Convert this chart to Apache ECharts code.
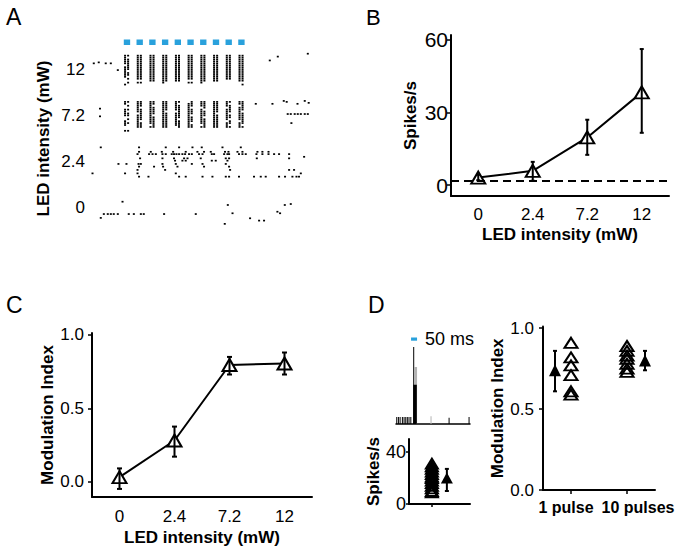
<!DOCTYPE html>
<html><head><meta charset="utf-8">
<script src="https://cdn.jsdelivr.net/npm/echarts@6/dist/echarts.min.js"></script>
<style>html,body{margin:0;padding:0;background:#fff}#c{width:679px;height:548px}</style>
</head><body><div id="c"></div>
<script>
const FONT = 'Liberation Sans, Arial, Helvetica, sans-serif';

// ---------- Panel A : raster ----------
const intensityLabels = ['0', '2.4', '7.2', '12'];
const pulseOnsetsMs = [0, 100, 200, 300, 400, 500, 600, 700, 800, 900];
const pulseWidthMs = 50;
// response per pulse, one character per trial (0 none, 1 early spike, 2 late spike, 3 both)
const columns12 = [
  '3133323313312021', '333333333333303', '333333333333330', '333333333333331', '333333333333330',
  '333333333333303', '333333333333331', '333333333333330', '33333333333330', '3333333333333302'
];
const columns72 = [
  '3120313302131003', '333133233313330', '331333313333230', '333331333333330', '313332333133320',
  '233133313331330', '333213331333230', '333333133333330', '313233133123130', '332331333323130'
];
// spontaneous / sparse spikes: [trial, [spike times in ms]]
const sparse12 = [[4, [-236, -142, -102]], [3.5, [-197]], [7.5, [-47]], [2.5, [1148]], [0.5, [1211]], [-1, [1447]]];
const sparse72 = [[3.5, [-187]], [7.5, [-187]], [1, [1038, 1169, 1366]], [-0.5, [1258, 1423]], [0, [1281]], [0.5, [1454]],
  [6.3, [1289, 1313, 1344, 1368, 1392, 1423, 1447]], [11, [1318]]];
const sparse24 = [
  [-0.4, [-181, 120, 330, 435, 540, 613, 776, 920]],
  [1.9, [120, 212, 299, 388, 487, 579, 631, 684, 796, 823, 894, 933, 1051, 1090, 1138]],
  [3.1, [108, 199, 226, 252, 304, 330, 377, 395, 414, 435, 461, 482, 513, 535, 592, 619, 692, 710, 789, 815, 828, 906, 933, 959, 1043, 1090, 1138, 1182, 1221, 1300]],
  [4.5, [1418]],
  [5.3, [128, 304, 395, 474, 501, 605, 802, 828, 1046, 1300]],
  [6.5, [403, 461, 487, 692, 723, 815]],
  [8.2, [-42, 21, 116, 134, 304, 409, 535, 619, 802]],
  [9.6, [120, 238, 309, 422, 631, 828]],
  [11.3, [108, 325, 836, 1300, 1339]],
  [13.1, [-246, 10, 108, 409, 1392]],
  [14.8, [120, 194, 435, 487, 619, 697, 802, 828, 906, 1024, 1077, 1116, 1221, 1268, 1326, 1358, 1378]]
];
const sparse0 = [[3.8, [-10]], [10.2, [-157, -126, -102, -79, -47, 39, 79, 134, 157, 317, 566]], [12.2, [-181]],
  [5.5, [818, 1266]], [9.8, [855, 1229]], [15.3, [794]], [12.4, [993]], [13.6, [1064, 1103]], [9, [1208]], [5, [1313]]];

// ---------- Panel B ----------
const spikeRateMean = [3.1, 5.9, 19.7, 38.3];
const spikeRateLow = [2.0, 1.8, 12.5, 21.6];
const spikeRateHigh = [4.3, 9.6, 27.0, 56.2];
const baselineRate = 2.0;

// ---------- Panel C ----------
const modIndexMean = [0.03, 0.28, 0.795, 0.805];
const modIndexLow = [-0.05, 0.17, 0.73, 0.73];
const modIndexHigh = [0.09, 0.375, 0.85, 0.88];

// ---------- Panel D ----------
const psthPulseMs = [0, 50];
const psthBlack = [[-123, -115, 9], [-109, -101, 9], [-95, -87, 9], [-76, -68, 9], [-62, -54, 9], [-48, -40, 9],
  [-35, -27, 9], [-21, -13, 9], [-6, 2, 9], [18, 26, 100], [18, 48, 51], [312, 320, 8], [478, 486, 9]];
const psthGray = [[30, 50, 74], [162, 170, 10]];
const singlePulseRates = [31, 29, 27, 25, 23, 21, 20, 18, 16, 14, 12, 10, 9];
const singlePulseMean = [20];
const singlePulseLow = [10];
const singlePulseHigh = [27];
const miConditions = ['1 pulse', '10 pulses'];
const miOnePulse = [0.91, 0.82, 0.77, 0.71, 0.61, 0.59];
const miTenPulses = [0.89, 0.86, 0.83, 0.81, 0.78, 0.75, 0.73];
const miMean = [0.74, 0.80];
const miLow = [0.61, 0.74];
const miHigh = [0.86, 0.86];

// ---------- build ----------
const TRIALS_PER_BLOCK = 24, TOP_TRIAL = 19, EARLY = 10, LATE = 34;
function rasterPoints(block, columns, sparse) {
  const pts = [];
  const yv = t => block * TRIALS_PER_BLOCK + TOP_TRIAL - t;
  if (columns) columns.forEach((col, p) => {
    for (let t = 0; t < col.length; t++) {
      const c = col[t];
      if (c === '1' || c === '3') pts.push([pulseOnsetsMs[p] + EARLY, yv(t)]);
      if (c === '2' || c === '3') pts.push([pulseOnsetsMs[p] + LATE, yv(t)]);
    }
  });
  sparse.forEach(([t, times]) => times.forEach(ms => pts.push([ms, yv(t)])));
  return pts;
}
const rasterData = [].concat(
  rasterPoints(0, null, sparse0), rasterPoints(1, null, sparse24),
  rasterPoints(2, columns72, sparse72), rasterPoints(3, columns12, sparse12));

const BLACK = '#000';
const axisLine = (w) => ({ show: true, onZero: false, lineStyle: { color: BLACK, width: w || 2 } });
const lbl = (size, extra) => Object.assign({ color: BLACK, fontSize: size, fontFamily: FONT, interval: 0 }, extra || {});
const nameStyle = { color: BLACK, fontSize: 17, fontWeight: 'bold', fontFamily: FONT };

function errorBars(xi, yi, xs, lo, hi, offsets, capW) {
  return {
    type: 'custom', xAxisIndex: xi, yAxisIndex: yi, z: 5, silent: true,
    data: xs.map((x, i) => [x, lo[i], hi[i]]),
    encode: { x: 0, y: [1, 2] },
    renderItem: (params, api) => {
      const i = params.dataIndex;
      const a = api.coord([api.value(0), api.value(1)]);
      const b = api.coord([api.value(0), api.value(2)]);
      const x = a[0] + (offsets ? offsets[i] : 0);
      const s = { stroke: BLACK, lineWidth: 2 };
      return { type: 'group', children: [
        { type: 'line', shape: { x1: x, y1: a[1], x2: x, y2: b[1] }, style: s },
        { type: 'line', shape: { x1: x - capW / 2, y1: a[1], x2: x + capW / 2, y2: a[1] }, style: s },
        { type: 'line', shape: { x1: x - capW / 2, y1: b[1], x2: x + capW / 2, y2: b[1] }, style: s }
      ] };
    }
  };
}
function binSeries(bins, color, z) {
  return {
    type: 'custom', xAxisIndex: 3, yAxisIndex: 4, z: z, silent: true, data: bins,
    renderItem: (params, api) => {
      const a = api.coord([api.value(0), 0]);
      const b = api.coord([api.value(1), api.value(2)]);
      return { type: 'rect', shape: { x: a[0], y: b[1], width: Math.max(1, b[0] - a[0]), height: a[1] - b[1] }, style: { fill: color } };
    }
  };
}
const idx4 = [0, 1, 2, 3];
const openTri = { color: '#fff', borderColor: BLACK, borderWidth: 2, opacity: 1 };
const hollowTri = { color: 'rgba(255,255,255,0)', borderColor: BLACK, borderWidth: 2, opacity: 1 };
const solidTri = { color: BLACK, opacity: 1 };
const miMeanOffsets = [-16, 18];
const rateMeanOffset = [15];

const option = {
  animation: false,
  backgroundColor: '#fff',
  textStyle: { fontFamily: FONT },
  title: [
    { text: 'A', left: 1, top: 0, textStyle: { fontSize: 23, fontWeight: 'normal', color: BLACK, fontFamily: FONT } },
    { text: 'B', left: 361, top: 1, textStyle: { fontSize: 22, fontWeight: 'normal', color: BLACK, fontFamily: FONT } },
    { text: 'C', left: 1, top: 288, textStyle: { fontSize: 23, fontWeight: 'normal', color: BLACK, fontFamily: FONT } },
    { text: 'D', left: 363, top: 288, textStyle: { fontSize: 23, fontWeight: 'normal', color: BLACK, fontFamily: FONT } }
  ],
  grid: [
    { left: 92, top: 46, width: 220, height: 185, outerBoundsMode: 'none' },
    { left: 451, top: 35, width: 218, height: 161, outerBoundsMode: 'none' },
    { left: 92, top: 333, width: 220, height: 164, outerBoundsMode: 'none' },
    { left: 396, top: 347, width: 74, height: 77, outerBoundsMode: 'none' },
    { left: 409, top: 439, width: 61, height: 65, outerBoundsMode: 'none' },
    { left: 543, top: 326.6, width: 112, height: 163.4, outerBoundsMode: 'none' }
  ],
  xAxis: [
    { gridIndex: 0, type: 'value', min: -250, max: 1480, show: false },
    { gridIndex: 1, type: 'category', data: intensityLabels, axisLine: axisLine(), axisTick: { show: false },
      axisLabel: lbl(17, { margin: 10 }), splitLine: { show: false },
      name: 'LED intensity (mW)', nameLocation: 'middle', nameGap: 30, nameTextStyle: nameStyle },
    { gridIndex: 2, type: 'category', data: intensityLabels, axisLine: axisLine(), axisTick: { show: false },
      axisLabel: lbl(17, { margin: 11 }), splitLine: { show: false },
      name: 'LED intensity (mW)', nameLocation: 'middle', nameGap: 32, nameTextStyle: nameStyle },
    { gridIndex: 3, type: 'value', min: -125, max: 490, axisLine: axisLine(1.5), axisTick: { show: false },
      axisLabel: { show: false }, splitLine: { show: false } },
    { gridIndex: 4, type: 'value', min: -3, max: 5, axisLine: axisLine(),
      axisTick: { show: true, customValues: [0], length: 3, lineStyle: { color: BLACK, width: 1.5 } },
      axisLabel: { show: false, customValues: [0] }, splitLine: { show: false } },
    { gridIndex: 5, type: 'category', data: miConditions, axisLine: axisLine(),
      axisTick: { show: true, alignWithLabel: true, interval: 0, length: 4, lineStyle: { color: BLACK, width: 1.5 } },
      axisLabel: lbl(16, { fontWeight: 'bold', margin: 9, hideOverlap: false,
        formatter: (v, i) => (i === 0 ? '{a|' : '{b|') + v + '}',
        rich: { a: { fontSize: 16, fontWeight: 'bold', fontFamily: FONT, color: BLACK, padding: [0, 10, 0, 0] },
                b: { fontSize: 16, fontWeight: 'bold', fontFamily: FONT, color: BLACK, padding: [0, 0, 0, 22] } } }),
      splitLine: { show: false } }
  ],
  yAxis: [
    { gridIndex: 0, type: 'category', data: intensityLabels, axisLine: { show: false }, axisTick: { show: false },
      axisLabel: lbl(17, { margin: 7 }), splitLine: { show: false },
      name: 'LED intensity (mW)', nameLocation: 'middle', nameGap: 40, nameTextStyle: nameStyle },
    { gridIndex: 0, type: 'value', min: 0, max: 96, show: false },
    { gridIndex: 1, type: 'value', min: -4.5, max: 62, axisLine: axisLine(),
      axisTick: { show: true, customValues: [0, 30, 60], length: 4, lineStyle: { color: BLACK, width: 1.5 } },
      axisLabel: lbl(21, { margin: 3, customValues: [0, 30, 60] }), splitLine: { show: false },
      name: 'Spikes/s', nameLocation: 'middle', nameGap: 32, nameTextStyle: nameStyle },
    { gridIndex: 2, type: 'value', min: -0.105, max: 1.013, axisLine: axisLine(),
      axisTick: { show: true, customValues: [0, 0.5, 1], length: 4, lineStyle: { color: BLACK, width: 1.5 } },
      axisLabel: lbl(17, { margin: 8, customValues: [0, 0.5, 1], formatter: v => v.toFixed(1) }), splitLine: { show: false },
      name: 'Modulation Index', nameLocation: 'middle', nameGap: 35, nameTextStyle: nameStyle },
    { gridIndex: 3, type: 'value', min: 0, max: 100, show: false },
    { gridIndex: 4, type: 'value', min: 0, max: 50, axisLine: axisLine(),
      axisTick: { show: true, customValues: [0, 40], length: 3, lineStyle: { color: BLACK, width: 1.5 } },
      axisLabel: lbl(18, { margin: 3, customValues: [0, 40] }), splitLine: { show: false },
      name: 'Spikes/s', nameLocation: 'middle', nameGap: 27, nameTextStyle: nameStyle },
    { gridIndex: 5, type: 'value', min: 0, max: 1.01, axisLine: axisLine(),
      axisTick: { show: true, customValues: [0, 0.5, 1], length: 4, lineStyle: { color: BLACK, width: 1.5 } },
      axisLabel: lbl(17, { margin: 9, customValues: [0, 0.5, 1], formatter: v => v.toFixed(1) }), splitLine: { show: false },
      name: 'Modulation Index', nameLocation: 'middle', nameGap: 33, nameTextStyle: nameStyle }
  ],
  series: [
    // A raster
    { type: 'scatter', xAxisIndex: 0, yAxisIndex: 1, data: rasterData, symbol: 'rect', symbolSize: [2, 1.7],
      itemStyle: { color: BLACK, opacity: 1 }, silent: true, clip: false },
    { type: 'custom', xAxisIndex: 0, yAxisIndex: 1, silent: true, data: pulseOnsetsMs.map(t => [t, t + pulseWidthMs]),
      renderItem: (params, api) => {
        const a = api.coord([api.value(0), 96]);
        const b = api.coord([api.value(1), 96]);
        return { type: 'rect', shape: { x: a[0], y: a[1] - 6.5, width: b[0] - a[0], height: 5.5 }, style: { fill: '#29A1DC' } };
      } },
    // B
    { type: 'line', xAxisIndex: 1, yAxisIndex: 2, data: spikeRateMean, symbol: 'triangle', symbolSize: [14, 12],
      showAllSymbol: true, itemStyle: openTri, lineStyle: { color: BLACK, width: 2 }, z: 3, silent: true,
      markLine: { silent: true, symbol: 'none', label: { show: false }, animation: false,
        lineStyle: { color: BLACK, width: 2, type: [8, 5] }, data: [{ yAxis: baselineRate }] } },
    errorBars(1, 2, idx4, spikeRateLow, spikeRateHigh, null, 4),
    // C
    { type: 'line', xAxisIndex: 2, yAxisIndex: 3, data: modIndexMean, symbol: 'triangle', symbolSize: [14, 12],
      showAllSymbol: true, itemStyle: openTri, lineStyle: { color: BLACK, width: 2 }, z: 3, silent: true },
    errorBars(2, 3, idx4, modIndexLow, modIndexHigh, null, 5),
    // D psth
    binSeries(psthGray, '#b3b3b3', 2),
    binSeries(psthBlack, BLACK, 3),
    { type: 'custom', xAxisIndex: 3, yAxisIndex: 4, silent: true, data: [psthPulseMs],
      renderItem: (params, api) => {
        const a = api.coord([api.value(0), 100]);
        const b = api.coord([api.value(1), 100]);
        return { type: 'group', children: [
          { type: 'rect', shape: { x: a[0], y: a[1] - 9.5, width: b[0] - a[0], height: 3.2 }, style: { fill: '#29A1DC' } },
          { type: 'text', x: b[0] + 8, y: a[1] - 8, style: { text: '50 ms', fill: BLACK, fontSize: 18, fontFamily: FONT, align: 'left', verticalAlign: 'middle' } }
        ] };
      } },
    // D single pulse rates
    { type: 'scatter', xAxisIndex: 4, yAxisIndex: 5, data: singlePulseRates.map(v => [0, v]), symbol: 'triangle',
      symbolSize: [12, 10], itemStyle: hollowTri, silent: true },
    { type: 'scatter', xAxisIndex: 4, yAxisIndex: 5, data: singlePulseMean.map(v => [0, v]), symbol: 'triangle',
      symbolSize: [12, 11], symbolOffset: [rateMeanOffset[0], 0], itemStyle: solidTri, silent: true },
    errorBars(4, 5, [0], singlePulseLow, singlePulseHigh, rateMeanOffset, 4),
    // D modulation index
    { type: 'scatter', xAxisIndex: 5, yAxisIndex: 6, data: miOnePulse.map(v => [0, v]), symbol: 'triangle',
      symbolSize: [13, 10], itemStyle: hollowTri, silent: true },
    { type: 'scatter', xAxisIndex: 5, yAxisIndex: 6, data: miTenPulses.map(v => [1, v]), symbol: 'triangle',
      symbolSize: [13, 10], itemStyle: hollowTri, silent: true },
    { type: 'scatter', xAxisIndex: 5, yAxisIndex: 6, symbol: 'triangle', symbolSize: [12, 12], itemStyle: solidTri, silent: true,
      data: miMean.map((v, i) => ({ value: [i, v], symbolOffset: [miMeanOffsets[i], 0] })) },
    errorBars(5, 6, [0, 1], miLow, miHigh, miMeanOffsets, 4)
  ]
};
const chart = echarts.init(document.getElementById('c'), null, { renderer: 'svg', width: 679, height: 548 });
chart.setOption(option);
</script></body></html>
